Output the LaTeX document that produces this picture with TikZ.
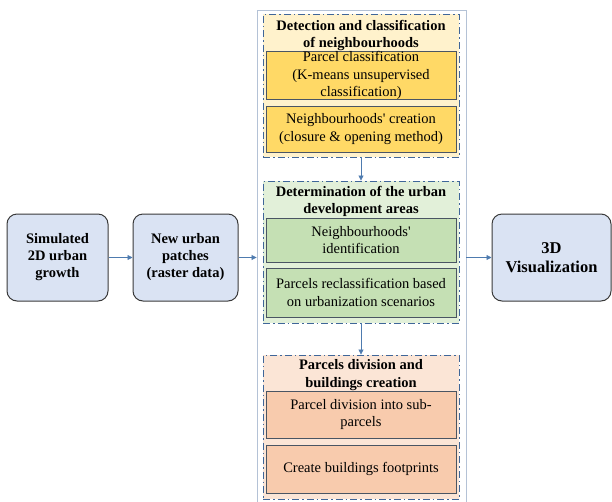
\documentclass[tikz,border=0pt]{standalone}
\usepackage{fontspec}
\setmainfont{Liberation Serif}
\usetikzlibrary{arrows.meta, positioning}
\definecolor{stagefill}{HTML}{DAE3F3}
\definecolor{stageline}{HTML}{3A3A3A}
\definecolor{frameline}{HTML}{B4C2D6}
\definecolor{groupline}{HTML}{3F6699}
\definecolor{taskline}{HTML}{4A5563}
\definecolor{arrowline}{HTML}{4E7BAF}
\definecolor{detlight}{HTML}{FFF2CC}
\definecolor{detdark}{HTML}{FFD966}
\definecolor{devlight}{HTML}{E2F0D9}
\definecolor{devdark}{HTML}{C5E0B4}
\definecolor{divlight}{HTML}{FBE5D6}
\definecolor{divdark}{HTML}{F8CBAD}
\tikzset{
	stage/.style={draw=stageline, fill=stagefill, rounded corners=10pt, line width=1pt, align=center, inner sep=0pt, font=\bfseries\fontsize{14.5}{17}\selectfont},
	frame/.style={draw=frameline, line width=0.9pt, inner sep=0pt},
	group/.style={draw=groupline, dash pattern=on 7pt off 3pt on 1.5pt off 3pt, line width=0.9pt, inner sep=0pt, minimum width=196pt},
	grouptitle/.style={align=center, inner sep=0pt, font=\bfseries\fontsize{14.5}{17.4}\selectfont},
	task/.style={draw=taskline, line width=1pt, minimum width=190pt, inner sep=0pt, align=center, font=\fontsize{14.5}{17.4}\selectfont},
	flow/.style={draw=arrowline, line width=0.8pt, -{Triangle[length=5pt, width=5pt]}}
}
\begin{document}
\begin{tikzpicture}[x=1pt, y=-1pt]
		\useasboundingbox (0,0) rectangle (612,501);
		
		\node[stage, minimum width=101pt, minimum height=87pt] (sim) at (57.5,257.5) {Simulated\\2D urban\\growth};
		\node[stage, minimum width=105pt, minimum height=87pt] (patches) at (185.5,257.5) {New urban\\patches\\(raster data)};
		\node[frame, minimum width=209pt, minimum height=494pt] (frame) at (361.5,257.5) {};
		\node[stage, minimum width=119pt, minimum height=87pt, font=\bfseries\fontsize{16.5}{19}\selectfont] (viz) at (551.5,257.5) {3D\\Visualization};
		
		\node[group, fill=detlight, minimum height=143pt] (det) at (361,85.5) {};
		\node[grouptitle] (dettitle) at (361,35.5) {Detection and classification\\of neighbourhoods};
		\node[task, fill=detdark, minimum height=47pt] (det1) at (361,75.5) {Parcel classification\\(K-means unsupervised\\classification)};
		\node[task, fill=detdark, minimum height=46pt] (det2) at (361,129) {Neighbourhoods\textquotesingle{} creation\\(closure \& opening method)};
		
		\node[group, fill=devlight, minimum height=142pt] (dev) at (361,252) {};
		\node[grouptitle] (devtitle) at (361,201.5) {Determination of the urban\\development areas};
		\node[task, fill=devdark, minimum height=44pt] (dev1) at (361,240) {Neighbourhoods\textquotesingle\\identification};
		\node[task, fill=devdark, minimum height=49pt] (dev2) at (361,292.5) {Parcels reclassification based\\on urbanization scenarios};
		
		\node[group, fill=divlight, minimum height=144pt] (div) at (361,427) {};
		\node[grouptitle] (divtitle) at (361,375) {Parcels division and\\buildings creation};
		\node[task, fill=divdark, minimum height=47pt] (div1) at (361,414.5) {Parcel division into sub-\\parcels};
		\node[task, fill=divdark, minimum height=48pt] (div2) at (361,469) {Create buildings footprints};
		
		\draw[flow] (sim) -- (patches);
		\draw[flow] (patches) -- (frame);
		\draw[flow] (frame) -- (viz);
		\draw[flow] (det) -- (dev);
		\draw[flow] (dev) -- (div);
	\end{tikzpicture}
\end{document}
